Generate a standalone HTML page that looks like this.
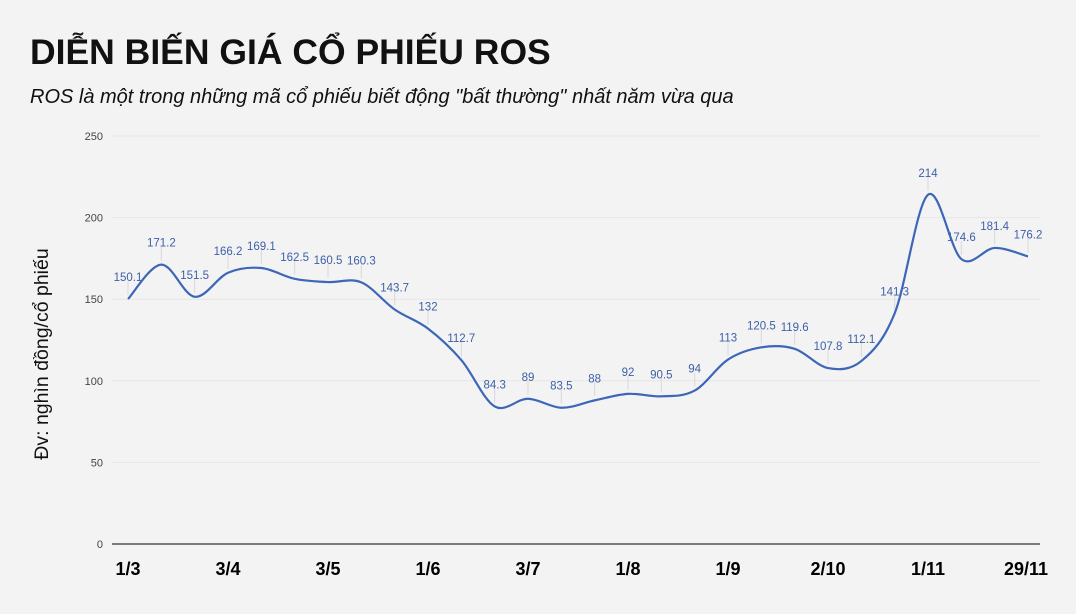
<!DOCTYPE html>
<html><head><meta charset="utf-8"><style>
html,body{margin:0;padding:0;background:#f3f3f3;}
body{width:1076px;height:609px;overflow:hidden;font-family:"Liberation Sans",Arial,sans-serif;}
</style></head><body>
<svg id="s" width="1076" height="609" xmlns="http://www.w3.org/2000/svg" font-family="Liberation Sans, Arial, sans-serif">
<rect width="1076" height="609" fill="#f3f3f3"/>
<text x="30" y="64" font-size="35.5" font-weight="bold" fill="#111">DIỄN BIẾN GIÁ CỔ PHIẾU ROS</text>
<text x="30" y="103" font-size="20" font-style="italic" fill="#111">ROS là một trong những mã cổ phiếu biết động "bất thường" nhất năm vừa qua</text>
<text transform="translate(48,354) rotate(-90)" text-anchor="middle" font-size="19.5" fill="#111">Đv: nghìn đồng/cổ phiếu</text>
<g id="grid"></g>
<g id="lab"></g>
<path id="ln" fill="none" stroke="#3d66b8" stroke-width="2.2"/>
<g id="xl" font-size="18" font-weight="bold" fill="#000" text-anchor="middle"></g>
</svg>
<script>
var d=[150.1,171.2,151.5,166.2,169.1,162.5,160.5,160.3,143.7,132,112.7,84.3,89,83.5,88,92,90.5,94,113,120.5,119.6,107.8,112.1,141.3,214,174.6,181.4,176.2];
function X(i){return 128+i*900/27;}function Y(v){return 544-1.632*v;}
var g=document.getElementById('grid'),h='';
[0,50,100,150,200,250].forEach(function(v){var y=Y(v);
h+='<text x="103" y="'+(y+4)+'" font-size="11" fill="#444" text-anchor="end">'+v+'</text>';
if(v>0)h+='<line x1="112" x2="1040" y1="'+y+'" y2="'+y+'" stroke="#e6e6e6" stroke-width="1"/>';
else h+='<line x1="112" x2="1040" y1="'+y+'" y2="'+y+'" stroke="#333" stroke-width="1.3"/>';});
g.innerHTML=h;
var p=d.map(function(v,i){return [X(i),Y(v)];}),s='M'+p[0][0]+','+p[0][1];
for(var i=0;i<p.length-1;i++){var p0=p[i-1]||p[i],p1=p[i],p2=p[i+1],p3=p[i+2]||p2,t=0.5/3;
s+=' C'+(p1[0]+(p2[0]-p0[0])*t)+','+(p1[1]+(p2[1]-p0[1])*t)+' '+(p2[0]-(p3[0]-p1[0])*t)+','+(p2[1]-(p3[1]-p1[1])*t)+' '+p2[0]+','+p2[1];}
document.getElementById('ln').setAttribute('d',s);
var l='';d.forEach(function(v,i){var x=X(i),y=Y(v);
l+='<line x1="'+x+'" x2="'+x+'" y1="'+(y-4)+'" y2="'+(y-18)+'" stroke="#d8d8d8"/>';
l+='<text x="'+x+'" y="'+(y-18)+'" font-size="11.5" fill="#3d5fa8" text-anchor="middle">'+v+'</text>';});
document.getElementById('lab').innerHTML=l;
var xs=['1/3','3/4','3/5','1/6','3/7','1/8','1/9','2/10','1/11','29/11'],x='';
xs.forEach(function(t,k){var xx=k<9?X(k*3):1026;x+='<text x="'+xx+'" y="575">'+t+'</text>';});
document.getElementById('xl').innerHTML=x;
</script>
</body></html>
